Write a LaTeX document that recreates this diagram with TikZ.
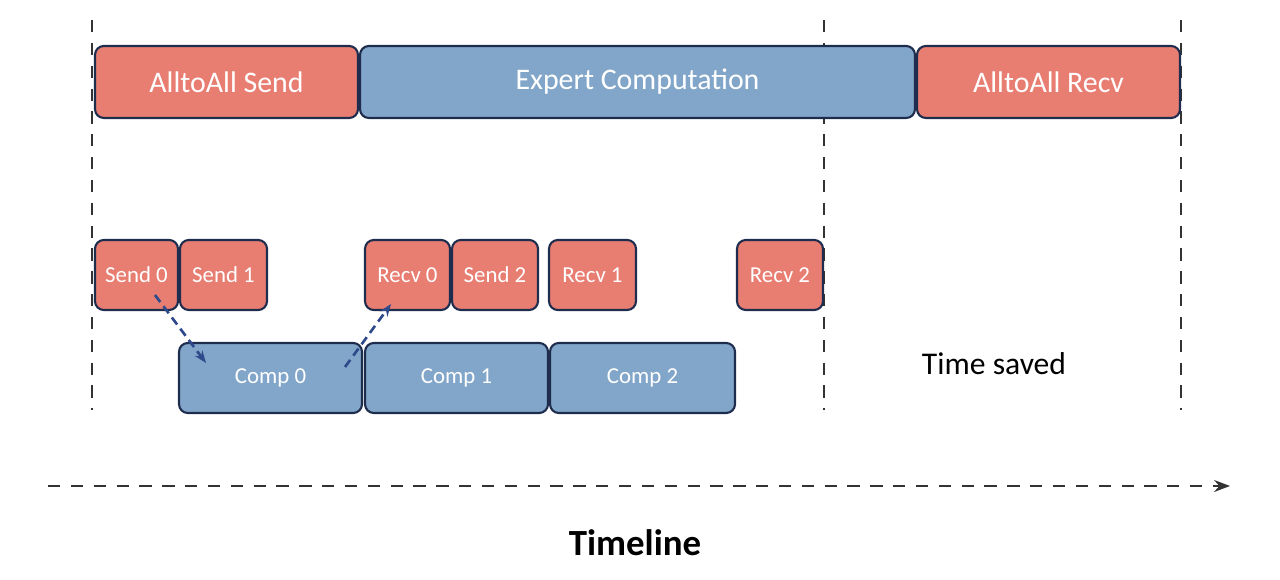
\documentclass[tikz,border=0pt]{standalone}
\usepackage{fontspec}
\setmainfont{Carlito}
\usetikzlibrary{arrows.meta}
\definecolor{sendred}{HTML}{E87D72}
\definecolor{compblue}{HTML}{82A6C9}
\definecolor{edgeblue}{HTML}{1E2D4E}
\definecolor{arrblue}{HTML}{2F4A8A}
\tikzset{
  box/.style={draw=edgeblue,line width=1.2pt,rounded corners=5pt,text=white,inner sep=0pt},
  big/.style={box,minimum height=1.44cm,font=\fontsize{17}{20}\selectfont},
  small/.style={box,minimum height=1.4cm,font=\fontsize{13}{15}\selectfont},
  comm/.style={fill=sendred},
  comp/.style={fill=compblue},
  guide/.style={draw=black!80,line width=1.4pt,dash pattern=on 7pt off 6pt},
  hop/.style={draw=arrblue,line width=1.5pt,dash pattern=on 5pt off 3pt,-{Stealth[length=7pt]}}
}
\begin{document}
\begin{tikzpicture}[x=0.02cm,y=-0.02cm]
\useasboundingbox (0,0) rectangle (1280,580);

% guide lines
\foreach \gx in {92,824,1181}{
  \draw[guide] (\gx,20) -- (\gx,410);
}

% serial schedule
\node[big,comm,minimum width=5.26cm] (sendall) at (226.5,82) {AlltoAll Send};
\node[big,comp,minimum width=11.1cm] (expert) at (637.5,82) {Expert Computation};
\node[big,comm,minimum width=5.26cm] (recvall) at (1048.5,82) {AlltoAll Recv};

% pipelined schedule
\node[small,comm,minimum width=1.66cm] (send0) at (136.5,275) {Send 0};
\node[small,comm,minimum width=1.74cm] (send1) at (223.5,275) {Send 1};
\node[small,comm,minimum width=1.7cm] (recv0) at (407.5,275) {Recv 0};
\node[small,comm,minimum width=1.72cm] (send2) at (495,275) {Send 2};
\node[small,comm,minimum width=1.74cm] (recv1) at (592.5,275) {Recv 1};
\node[small,comm,minimum width=1.72cm] (recv2) at (780,275) {Recv 2};

\node[small,comp,minimum width=3.66cm] (comp0) at (270.5,378) {Comp 0};
\node[small,comp,minimum width=3.66cm] (comp1) at (456.5,378) {Comp 1};
\node[small,comp,minimum width=3.7cm] (comp2) at (642.5,378) {Comp 2};

\coordinate (hopa) at (155,295);
\coordinate (hopb) at (206,363);
\coordinate (hopc) at (345,367);
\coordinate (hopd) at (391,304);
\draw[hop] (hopa) -- (hopb);
\draw[hop] (hopc) -- (hopd);

\node[font=\fontsize{18}{21}\selectfont] (saved) at (994,364) {Time saved};

% timeline
\coordinate (tstart) at (48,486);
\coordinate (tend) at (1230,486);
\draw[guide,-{Stealth[length=9pt]}] (tstart) -- (tend);
\node[font=\bfseries\fontsize{21}{25}\selectfont] (timeline) at (635,543) {Timeline};
\end{tikzpicture}
\end{document}
